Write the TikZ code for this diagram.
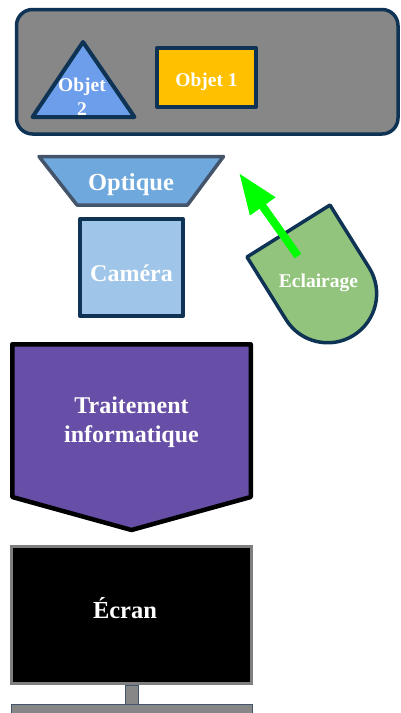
\documentclass[tikz,border=0pt]{standalone}
\usepackage{fontspec}
\setmainfont{Liberation Serif}
\usetikzlibrary{arrows.meta}
\definecolor{navy}{HTML}{0E3354}
\definecolor{boxgray}{HTML}{878787}
\definecolor{trifill}{HTML}{6D9EEB}
\definecolor{objyellow}{HTML}{FFC000}
\definecolor{optfill}{HTML}{6FA8DC}
\definecolor{slate}{HTML}{44546A}
\definecolor{camfill}{HTML}{9FC5E8}
\definecolor{eclfill}{HTML}{93C47D}
\definecolor{arrowgreen}{HTML}{00FF00}
\definecolor{purplefill}{HTML}{674EA7}
\definecolor{screenborder}{HTML}{7F7F7F}
\begin{document}
\begin{tikzpicture}[x=1pt,y=-1pt,
  lbl/.style={text=white,inner sep=0pt,align=center,font=\bfseries\fontsize{24}{28.5}\selectfont},
  smalllbl/.style={lbl,font=\bfseries\fontsize{19.5}{23.3}\selectfont},
  shapeline/.style={draw=navy,line width=4pt,line join=round}]
\useasboundingbox (0,0) rectangle (400,713);
% scene box
\draw[shapeline,line width=3.5pt,fill=boxgray,rounded corners=16pt] (16.5,9.5) rectangle (398,134);
% Objet 2 triangle
\draw[shapeline,fill=trifill] (83,42) -- (134.5,117) -- (32.5,117) -- cycle;
\node[smalllbl] (obj2) at (82,96.7) {Objet\\2};
% Objet 1
\draw[shapeline,fill=objyellow] (157,48) rectangle (256,107);
\node[smalllbl,anchor=base] (obj1) at (206.5,86) {Objet 1};
% Optique
\draw[draw=slate,line width=3.5pt,line join=round,fill=optfill] (39,156.5) -- (223.5,156.5) -- (187.5,205) -- (77,205) -- cycle;
\node[lbl,font=\bfseries\fontsize{24.5}{28}\selectfont,anchor=base] (opt) at (131,190.5) {Optique};
% Camera
\draw[shapeline,fill=camfill] (80,219) rectangle (183,316);
\node[lbl,anchor=base] (cam) at (131.5,281.5) {Caméra};
% Eclairage
\draw[shapeline,line width=3.5pt,fill=eclfill] (247,257) -- (330,205) -- (369.2,267.8) arc[start angle=-32,end angle=148,radius=49] -- cycle;
\coordinate (atail) at (298,256);
\coordinate (atip) at (239,173);
\draw[arrowgreen,line width=8pt,-{Triangle[length=41pt,width=29pt]}] (atail) -- (atip);
\node[smalllbl,anchor=base] (ecl) at (318.5,287.3) {Eclairage};
% Traitement informatique
\draw[draw=black,line width=4.5pt,line join=round,fill=purplefill] (12.25,344.25) -- (250.75,344.25) -- (250.75,497) -- (131.5,530) -- (12.25,497) -- cycle;
\node[lbl] (trait) at (131.5,422) {Traitement\\informatique};
% Ecran
\draw[draw=screenborder,line width=3pt,fill=black] (11.5,546.5) rectangle (251.5,683.5);
\node[lbl,font=\bfseries\fontsize{24.5}{28}\selectfont,anchor=base] (ecran) at (125,618) {Écran};
\draw[draw=slate,line width=1pt,fill=boxgray] (125,685) rectangle (138.5,704);
\draw[draw=slate,line width=1pt,fill=boxgray] (11,704.5) rectangle (252.5,716);
\end{tikzpicture}
\end{document}
